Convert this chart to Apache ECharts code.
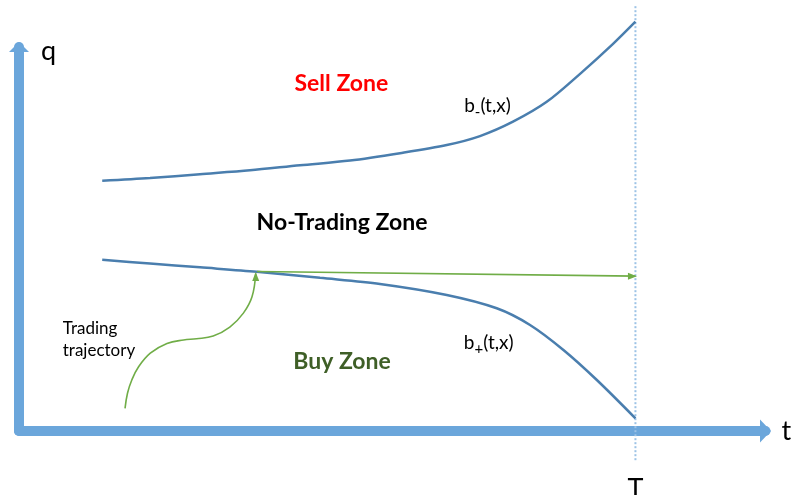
<!DOCTYPE html>
<html>
<head>
<meta charset="utf-8">
<script src="https://cdn.jsdelivr.net/npm/echarts@6/dist/echarts.min.js"></script>
<style>
  html, body { margin: 0; padding: 0; background: #fff; }
  #chart { width: 796px; height: 495px; }
</style>
</head>
<body>
<div id="chart"></div>
<script>
// boundaries (t: T = 1, q: arbitrary units)
var sellBoundary = [
  [0.135, 0.643], [0.2125, 0.650], [0.2936, 0.660], [0.3748, 0.670],
  [0.4559, 0.683], [0.5370, 0.695], [0.6181, 0.714], [0.6939, 0.735],
  [0.7478, 0.758], [0.8014, 0.795], [0.8561, 0.846], [0.9102, 0.918],
  [0.9637, 0.995], [1.000, 1.052]
];
var buyBoundary = [
  [0.135, 0.440], [0.2125, 0.4303], [0.2936, 0.4206], [0.3856, 0.4095],
  [0.4883, 0.3936], [0.5856, 0.3779], [0.6939, 0.3496], [0.7750, 0.3154],
  [0.8290, 0.2725], [0.8832, 0.2082], [0.9374, 0.1311], [1.000, 0.0326]
];
// trading trajectory: reaching the boundary, then moving along to T
var trajectory = [
  [0.172, 0.058], [0.176, 0.097], [0.183, 0.131], [0.194, 0.165],
  [0.213, 0.200], [0.240, 0.225], [0.267, 0.234], [0.288, 0.237],
  [0.315, 0.244], [0.342, 0.267], [0.364, 0.303], [0.378, 0.345],
  [0.384, 0.405]
];
var drift = [[0.386, 0.410], [1.000, 0.398]];
var horizon = [[1, -0.075], [1, 1.095]];

// text annotations [t, q, label]
var zoneLabels = [
  [0.523, 0.892, 'Sell Zone'],
  [0.524, 0.535, 'No-Trading Zone'],
  [0.524, 0.178, 'Buy Zone']
];
var boundaryLabels = [
  [0.760, 0.835, 'b{s|-}(t,x)'],
  [0.762, 0.226, 'b{s|+}(t,x)']
];
var noteLabels = [[0.071, 0.235, 'Trading\ntrajectory']];

var zoneColors = ['#ff0000', '#000000', '#3f5f27'];
var font = 'Lato, "Open Sans", sans-serif';

function arrowEnd(pts, rot, off) {
  return pts.map(function (p, i) {
    if (i < pts.length - 1) return p;
    return { value: p, symbol: 'triangle', symbolSize: [7, 9], symbolRotate: rot, symbolOffset: off };
  });
}

var chart = echarts.init(document.getElementById('chart'));

var option = {
  animation: false,
  backgroundColor: '#ffffff',
  grid: { left: 19, right: 30.5, top: 47, bottom: 64, containLabel: false, outerBoundsMode: 'none' },
  xAxis: {
    type: 'value', min: 0, max: 1.211, interval: 1,
    name: 't', nameLocation: 'end', nameGap: 16,
    nameTextStyle: { fontSize: 27, fontFamily: font, color: '#000' },
    axisLine: {
      show: true, symbol: ['none', 'triangle'], symbolSize: [23, 11],
      lineStyle: { color: '#6ba6db', width: 10 }
    },
    axisTick: { show: false },
    splitLine: { show: false },
    axisLabel: {
      margin: 45, fontSize: 27, fontFamily: font, color: '#000',
      formatter: function (v) { return v === 1 ? 'T' : ''; }
    }
  },
  yAxis: {
    type: 'value', min: 0, max: 0.987,
    name: 'q', nameLocation: 'end', nameGap: -18,
    nameTextStyle: { fontSize: 27, fontFamily: font, color: '#000', align: 'left', padding: [0, 0, 0, 22] },
    axisLine: {
      show: true, symbol: ['none', 'triangle'], symbolSize: [20, 10],
      lineStyle: { color: '#6ba6db', width: 10 }
    },
    axisTick: { show: false },
    splitLine: { show: false },
    axisLabel: { show: false }
  },
  series: [
    {
      type: 'line', data: horizon, symbol: 'none', clip: false, z: 1,
      lineStyle: { color: '#9dc3e6', width: 2, type: [2, 2] }
    },
    {
      type: 'line', data: sellBoundary, smooth: 0.3, symbol: 'none', clip: false,
      lineStyle: { color: '#4a7eae', width: 2.5 }
    },
    {
      type: 'line', data: buyBoundary, smooth: 0.3, symbol: 'none', clip: false,
      lineStyle: { color: '#4a7eae', width: 2.5 }
    },
    {
      type: 'line', data: arrowEnd(trajectory, 0, [0, 3]), smooth: 0.4, symbol: 'none', clip: false,
      itemStyle: { color: '#70ad47' },
      lineStyle: { color: '#70ad47', width: 1.6 }
    },
    {
      type: 'line', data: arrowEnd(drift, -90, [-3, 0]), symbol: 'none', clip: false,
      itemStyle: { color: '#70ad47' },
      lineStyle: { color: '#70ad47', width: 1.6 }
    },
    {
      type: 'scatter', symbolSize: 0, silent: true,
      itemStyle: { opacity: 1 },
      data: zoneLabels.map(function (d, i) {
        return {
          value: [d[0], d[1]],
          label: { color: zoneColors[i] }
        };
      }),
      label: {
        show: true, position: 'inside', fontFamily: font, fontWeight: 'bold', fontSize: 23,
        formatter: function (p) { return zoneLabels[p.dataIndex][2]; }
      }
    },
    {
      type: 'scatter', symbolSize: 0, silent: true,
      itemStyle: { opacity: 1 },
      data: boundaryLabels.map(function (d) { return [d[0], d[1]]; }),
      label: {
        show: true, position: 'inside', fontFamily: font, fontSize: 19, color: '#000',
        formatter: function (p) { return boundaryLabels[p.dataIndex][2]; },
        rich: { s: { fontSize: 15, fontFamily: font, color: '#000', verticalAlign: 'bottom', padding: [12, 0, 0, 0] } }
      }
    },
    {
      type: 'scatter', symbolSize: 0, silent: true,
      itemStyle: { opacity: 1 },
      data: noteLabels.map(function (d) { return [d[0], d[1]]; }),
      label: {
        show: true, position: 'right', distance: 0, align: 'left', fontFamily: font, fontSize: 17,
        lineHeight: 22, color: '#000',
        formatter: function (p) { return noteLabels[p.dataIndex][2]; }
      }
    }
  ]
};

chart.setOption(option);
</script>
</body>
</html>
